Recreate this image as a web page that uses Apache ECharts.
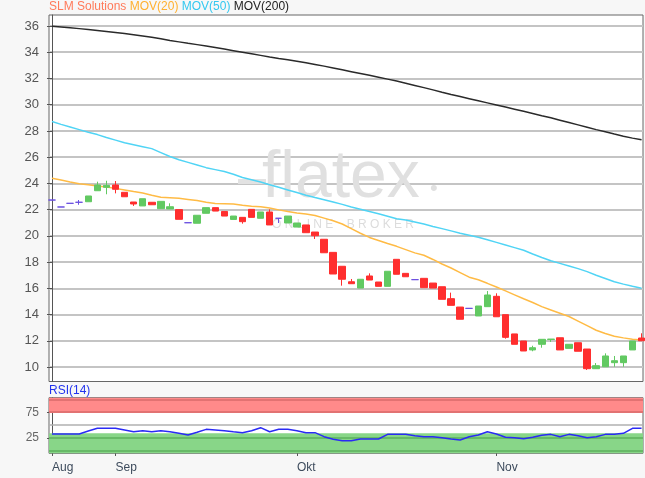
<!DOCTYPE html>
<html>
<head>
<meta charset="utf-8">
<script src="https://cdn.jsdelivr.net/npm/echarts@6/dist/echarts.min.js"></script>
<style>
html,body{margin:0;padding:0;background:#f7f7f7;}
#c{width:645px;height:478px;}
</style>
</head>
<body>
<div id="c"></div>
<script>
const dates = [
 '2018-08-23','2018-08-24','2018-08-27','2018-08-28','2018-08-29','2018-08-30','2018-08-31',
 '2018-09-03','2018-09-04','2018-09-05','2018-09-06','2018-09-07','2018-09-10','2018-09-11','2018-09-12','2018-09-13','2018-09-14',
 '2018-09-17','2018-09-18','2018-09-19','2018-09-20','2018-09-21','2018-09-24','2018-09-25','2018-09-26','2018-09-27','2018-09-28',
 '2018-10-01','2018-10-02','2018-10-04','2018-10-05','2018-10-08','2018-10-09','2018-10-10','2018-10-11','2018-10-12',
 '2018-10-15','2018-10-16','2018-10-17','2018-10-18','2018-10-19','2018-10-22','2018-10-23','2018-10-24','2018-10-25','2018-10-26',
 '2018-10-29','2018-10-30','2018-10-31',
 '2018-11-01','2018-11-02','2018-11-05','2018-11-06','2018-11-07','2018-11-08','2018-11-09','2018-11-12','2018-11-13','2018-11-14',
 '2018-11-15','2018-11-16','2018-11-19','2018-11-20','2018-11-21','2018-11-22','2018-11-23'
];
const monthLabels = {'08':'Aug','09':'Sep','10':'Okt','11':'Nov'};
const priceTicks = [10,12,14,16,18,20,22,24,26,28,30,32,34,36];
const rsiTicks = [25,75];

const open = [22.73,22.2,22.48,22.56,22.6,23.44,23.7,23.88,23.32,22.58,22.28,22.56,22.07,22.05,22.0,21.0,20.96,21.72,22.15,21.86,21.25,21.41,22.02,21.34,21.82,21.34,20.98,20.67,20.83,20.29,19.74,18.74,17.68,16.5,16.02,16.94,16.48,16.15,18.21,17.14,16.66,16.76,16.4,16.12,15.21,14.57,14.47,13.89,14.6,15.39,13.99,12.52,11.98,11.3,11.73,12.1,12.23,11.42,11.85,11.37,9.87,10.02,10.33,10.33,11.3,12.21];
const close = [22.73,22.2,22.48,22.56,23.04,23.88,23.85,23.55,22.98,22.43,22.83,22.37,22.63,22.22,21.26,21.0,21.57,22.15,21.89,21.51,21.51,21.08,21.41,21.82,20.83,21.34,21.51,20.98,20.24,20.01,18.71,17.09,16.69,16.35,16.69,16.63,16.15,17.3,17.07,16.88,16.66,16.05,16.02,15.16,14.7,13.64,14.47,14.65,15.49,13.83,12.26,11.73,11.22,11.47,12.11,12.13,11.3,11.73,11.2,9.87,10.1,10.84,10.48,10.84,11.98,12.0];
const low = [22.73,22.2,22.48,22.37,22.6,23.44,23.17,23.24,22.98,22.28,22.28,22.37,22.07,22.05,21.26,21.0,20.96,21.72,21.89,21.51,21.25,20.93,21.41,21.34,20.83,20.98,20.98,20.67,20.24,19.76,18.71,17.09,16.2,16.35,16.02,16.63,16.15,16.15,17.07,16.88,16.66,16.05,16.02,15.16,14.7,13.64,14.47,13.89,14.6,13.83,12.16,11.73,11.22,11.2,11.47,11.91,11.3,11.42,11.2,9.77,9.87,10.02,10.02,10.02,11.3,12.0];
const high = [22.73,22.2,22.48,22.73,23.04,24.13,24.2,24.18,23.32,22.58,22.83,22.56,22.63,22.48,22.0,21.0,21.57,22.15,22.15,21.86,21.51,21.41,22.02,21.82,22.02,21.34,21.51,20.98,20.83,20.29,19.74,18.74,17.68,16.71,16.69,17.14,16.48,17.3,18.21,17.14,16.66,16.76,16.4,16.12,15.67,14.57,14.47,14.65,15.79,15.62,13.99,12.52,11.98,11.62,12.11,12.13,12.23,11.73,11.85,11.37,10.3,11.04,10.84,10.84,11.98,12.57];

const mov20 = [24.39,24.25,24.1,23.98,23.9,23.8,23.72,23.62,23.5,23.38,23.27,23.1,22.94,22.9,22.86,22.78,22.7,22.56,22.47,22.45,22.43,22.33,22.25,22.22,22.12,21.98,21.86,21.75,21.66,21.55,21.35,21.15,20.9,20.55,20.2,19.88,19.65,19.42,19.2,18.95,18.7,18.52,18.2,17.85,17.55,17.2,16.85,16.65,16.38,16.1,15.8,15.5,15.2,14.92,14.6,14.35,14.1,13.85,13.5,13.15,12.8,12.55,12.35,12.22,12.11,12.05];
const mov50 = [28.72,28.5,28.3,28.1,27.9,27.72,27.5,27.3,27.1,26.95,26.8,26.65,26.35,26.05,25.8,25.6,25.4,25.2,25.05,24.9,24.7,24.45,24.28,24.1,23.9,23.7,23.5,23.3,23.1,22.92,22.75,22.58,22.4,22.2,22.03,21.85,21.68,21.5,21.3,21.2,21.05,20.9,20.72,20.55,20.38,20.2,20.05,19.9,19.7,19.5,19.3,19.1,18.9,18.62,18.35,18.1,17.9,17.7,17.5,17.27,17.0,16.75,16.5,16.32,16.15,16.0];
const mov200 = [35.98,35.92,35.86,35.8,35.73,35.66,35.58,35.5,35.42,35.33,35.24,35.14,35.02,34.9,34.79,34.68,34.58,34.47,34.36,34.24,34.12,34.0,33.88,33.76,33.64,33.53,33.43,33.32,33.2,33.07,32.94,32.8,32.66,32.52,32.38,32.24,32.1,31.95,31.8,31.64,31.47,31.3,31.13,30.95,30.78,30.62,30.46,30.3,30.14,29.98,29.82,29.66,29.5,29.33,29.16,29.0,28.82,28.64,28.46,28.28,28.1,27.93,27.76,27.6,27.45,27.32];
const rsi = [32.9,32.9,32.9,32.9,38.7,43.9,43.9,43.9,40.6,37.3,39.3,37.3,39.3,37.3,34.2,30.9,36.1,41.9,40.6,39.3,37.3,35.5,39.3,45.1,37.3,41.9,41.9,39.3,35.5,35.5,27.7,22.6,19.9,19.9,23.2,23.2,23.2,32.2,32.2,32.2,29.6,27.7,27.7,25.7,23.2,21.3,27.7,30.9,37.3,32.9,26.5,25.7,23.8,26.5,30.4,32.2,27.7,32.2,29.6,25.7,27.7,32.2,32.2,34.2,43.9,43.9];

const FONT = 'Liberation Sans, Arial, sans-serif';
const monthStarts = dates.map((d,i)=> (i===0 || d.slice(5,7)!==dates[i-1].slice(5,7)) ? i : -1).filter(i=>i>=0);
const candleData = dates.map((d,i)=>[i, open[i], close[i], low[i], high[i]]);
const pair = arr => arr.map((v,i)=>[i,v]);

const X_MIN = -0.33, X_MAX = 65.16;
const chart = echarts.init(document.getElementById('c'), null, {renderer:'canvas'});
chart.setOption({
  animation:false,
  backgroundColor:'#f7f7f7',
  textStyle:{fontFamily:FONT},
  title:[
    {left:49, top:1, padding:0, text:'{a|SLM Solutions} {b|MOV(20)} {c|MOV(50)} {d|MOV(200)}',
     textStyle:{fontSize:12, fontWeight:'normal', fontFamily:FONT,
       rich:{a:{color:'#ff7a5a',fontSize:12,fontFamily:FONT},b:{color:'#ffb030',fontSize:12,fontFamily:FONT},c:{color:'#33c8f0',fontSize:12,fontFamily:FONT},d:{color:'#222',fontSize:12,fontFamily:FONT}}}},
    {left:49, top:385, padding:0, text:'RSI(14)', textStyle:{fontSize:12, fontWeight:'normal', color:'#2233ee', fontFamily:FONT}}
  ],
  graphic:[
    {type:'rect', left:238, top:179, z:1, silent:true, shape:{width:28, height:5}, style:{fill:'#e2e2e2'}},
    {type:'text', left:262, top:146, z:1, silent:true, style:{text:'flatex', fontSize:66, fontFamily:FONT, fill:'#e0e0e0'}},
    {type:'text', left:430, top:178, z:1, silent:true, style:{text:'•', fontSize:22, fontFamily:FONT, fill:'#e0e0e0'}},
    {type:'text', left:272, top:219, z:1, silent:true, style:{text:'O N L I N E    B R O K E R', fontSize:12, fontFamily:FONT, fill:'#dcdcdc'}}
  ],
  grid:[
    {left:49, top:15, width:594, height:366.5, show:true, backgroundColor:'#fff', borderColor:'#666', borderWidth:1, containLabel:false, outerBoundsMode:'none'},
    {left:49, top:397.7, width:594, height:55.6, show:true, backgroundColor:'#fff', borderColor:'#666', borderWidth:1, containLabel:false, outerBoundsMode:'none'}
  ],
  xAxis:[
    {type:'value', gridIndex:0, min:X_MIN, max:X_MAX, show:false, splitLine:{show:false}},
    {type:'value', gridIndex:1, min:X_MIN, max:X_MAX,
     axisLine:{show:false}, splitLine:{show:false},
     axisTick:{show:true, length:5, lineStyle:{color:'#555'}, customValues:monthStarts},
     axisLabel:{show:true, customValues:monthStarts, align:'left', margin:8, fontSize:12, color:'#3d4b5c', fontFamily:FONT,
       formatter:v=>monthLabels[dates[Math.round(v)].slice(5,7)]}}
  ],
  yAxis:[
    {type:'value', gridIndex:0, min:8.894, max:36.839, scale:true,
     axisLine:{show:true, lineStyle:{color:'#555'}},
     axisTick:{show:true, length:5, lineStyle:{color:'#555'}, customValues:priceTicks},
     axisLabel:{customValues:priceTicks, fontSize:13, color:'#555', margin:10, fontFamily:FONT},
     splitLine:{show:true, lineStyle:{color:'#c4c4c4', width:2}}},
    {type:'value', gridIndex:1, min:-4.45, max:103.1,
     axisLine:{show:true, lineStyle:{color:'#555'}},
     axisTick:{show:true, length:5, lineStyle:{color:'#555'}, customValues:rsiTicks},
     axisLabel:{customValues:rsiTicks, fontSize:12, color:'#666', margin:10, fontFamily:FONT},
     splitLine:{show:false}}
  ],
  series:[
    {type:'line', name:'MOV(200)', xAxisIndex:0, yAxisIndex:0, data:pair(mov200), showSymbol:false, lineStyle:{color:'#2a2a2a', width:1.5}, z:3},
    {type:'line', name:'MOV(50)', xAxisIndex:0, yAxisIndex:0, data:pair(mov50), showSymbol:false, lineStyle:{color:'#50d4f5', width:1.5}, z:3},
    {type:'line', name:'MOV(20)', xAxisIndex:0, yAxisIndex:0, data:pair(mov20), showSymbol:false, lineStyle:{color:'#ffbb45', width:1.5}, z:3},
    {type:'candlestick', name:'SLM Solutions', xAxisIndex:0, yAxisIndex:0, data:candleData, encode:{x:0, y:[1,2,3,4]},
     barWidth:7, clip:false, z:4,
     itemStyle:{color:'#62c962', color0:'#ff2e2e', borderColor:'#62c962', borderColor0:'#ff2e2e', borderColorDoji:'#6a4fe0', borderWidth:1}},
    {type:'line', name:'RSI(14)', xAxisIndex:1, yAxisIndex:1, data:pair(rsi), showSymbol:false, lineStyle:{color:'#2a2af5', width:1.5}, z:5,
     markArea:{silent:true, data:[
        [{yAxis:73.5, itemStyle:{color:'#ff8a8a'}},{yAxis:103.1}],
        [{yAxis:-4.45, itemStyle:{color:'#88d688'}},{yAxis:34.2}]
     ]},
     markLine:{silent:true, symbol:'none', label:{show:false}, data:[
        {yAxis:100, lineStyle:{color:'#d96a6a', width:1.5, type:'solid'}},
        {yAxis:75, lineStyle:{color:'#d96a6a', width:1.5, type:'solid'}},
        {yAxis:50, lineStyle:{color:'#b0b0b0', width:1.5, type:'solid'}},
        {yAxis:25, lineStyle:{color:'#5cb05c', width:1.5, type:'solid'}},
        {yAxis:0, lineStyle:{color:'#5cb05c', width:1.5, type:'solid'}}
     ]}}
  ]
});
</script>
</body>
</html>
